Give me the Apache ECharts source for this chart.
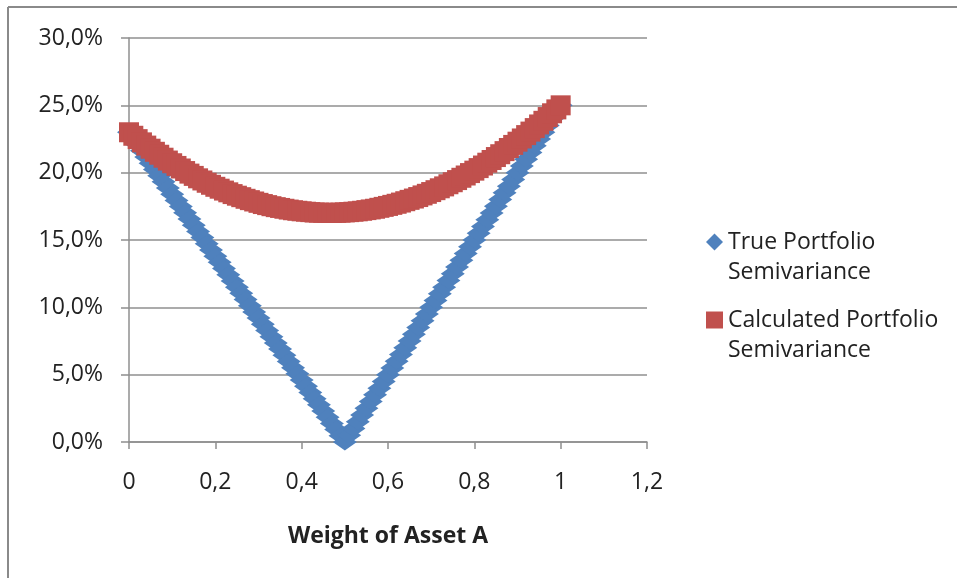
<!DOCTYPE html>
<html>
<head>
<meta charset="utf-8">
<script src="https://cdn.jsdelivr.net/npm/echarts@6/dist/echarts.min.js"></script>
<style>
  html, body { margin: 0; padding: 0; background: #ffffff; }
  #chart { width: 957px; height: 578px; }
</style>
</head>
<body>
<div id="chart"></div>
<script>
// Weight of asset A in the two-asset portfolio
const weights = [
  0.00, 0.01, 0.02, 0.03, 0.04, 0.05, 0.06, 0.07, 0.08, 0.09,
  0.10, 0.11, 0.12, 0.13, 0.14, 0.15, 0.16, 0.17, 0.18, 0.19,
  0.20, 0.21, 0.22, 0.23, 0.24, 0.25, 0.26, 0.27, 0.28, 0.29,
  0.30, 0.31, 0.32, 0.33, 0.34, 0.35, 0.36, 0.37, 0.38, 0.39,
  0.40, 0.41, 0.42, 0.43, 0.44, 0.45, 0.46, 0.47, 0.48, 0.49,
  0.50, 0.51, 0.52, 0.53, 0.54, 0.55, 0.56, 0.57, 0.58, 0.59,
  0.60, 0.61, 0.62, 0.63, 0.64, 0.65, 0.66, 0.67, 0.68, 0.69,
  0.70, 0.71, 0.72, 0.73, 0.74, 0.75, 0.76, 0.77, 0.78, 0.79,
  0.80, 0.81, 0.82, 0.83, 0.84, 0.85, 0.86, 0.87, 0.88, 0.89,
  0.90, 0.91, 0.92, 0.93, 0.94, 0.95, 0.96, 0.97, 0.98, 0.99,
  1.00
];

// True portfolio semivariance at each weight
const trueSemivariance = [
  0.2300, 0.2254, 0.2208, 0.2162, 0.2116, 0.2070, 0.2024, 0.1978, 0.1932, 0.1886,
  0.1840, 0.1794, 0.1748, 0.1702, 0.1656, 0.1610, 0.1564, 0.1518, 0.1472, 0.1426,
  0.1380, 0.1334, 0.1288, 0.1242, 0.1196, 0.1150, 0.1104, 0.1058, 0.1012, 0.0966,
  0.0920, 0.0874, 0.0828, 0.0782, 0.0736, 0.0690, 0.0644, 0.0598, 0.0552, 0.0506,
  0.0460, 0.0414, 0.0368, 0.0322, 0.0276, 0.0230, 0.0184, 0.0138, 0.0092, 0.0046,
  0.0000, 0.0050, 0.0100, 0.0150, 0.0200, 0.0250, 0.0300, 0.0350, 0.0400, 0.0450,
  0.0500, 0.0550, 0.0600, 0.0650, 0.0700, 0.0750, 0.0800, 0.0850, 0.0900, 0.0950,
  0.1000, 0.1050, 0.1100, 0.1150, 0.1200, 0.1250, 0.1300, 0.1350, 0.1400, 0.1450,
  0.1500, 0.1550, 0.1600, 0.1650, 0.1700, 0.1750, 0.1800, 0.1850, 0.1900, 0.1950,
  0.2000, 0.2050, 0.2100, 0.2150, 0.2200, 0.2250, 0.2300, 0.2350, 0.2400, 0.2450,
  0.2500
];

// Calculated portfolio semivariance at each weight
const calculatedSemivariance = [
  0.2300, 0.2274, 0.2249, 0.2225, 0.2201, 0.2178, 0.2155, 0.2133, 0.2111, 0.2090,
  0.2070, 0.2050, 0.2031, 0.2012, 0.1993, 0.1976, 0.1958, 0.1942, 0.1925, 0.1910,
  0.1895, 0.1881, 0.1867, 0.1854, 0.1841, 0.1829, 0.1818, 0.1806, 0.1796, 0.1786,
  0.1776, 0.1767, 0.1759, 0.1751, 0.1744, 0.1738, 0.1732, 0.1726, 0.1721, 0.1717,
  0.1713, 0.1710, 0.1707, 0.1704, 0.1703, 0.1702, 0.1701, 0.1701, 0.1702, 0.1703,
  0.1705, 0.1707, 0.1710, 0.1713, 0.1717, 0.1722, 0.1727, 0.1732, 0.1739, 0.1746,
  0.1753, 0.1761, 0.1769, 0.1778, 0.1788, 0.1798, 0.1808, 0.1819, 0.1831, 0.1843,
  0.1856, 0.1870, 0.1884, 0.1898, 0.1914, 0.1929, 0.1945, 0.1962, 0.1979, 0.1997,
  0.2015, 0.2034, 0.2053, 0.2074, 0.2094, 0.2116, 0.2137, 0.2160, 0.2183, 0.2206,
  0.2230, 0.2254, 0.2279, 0.2305, 0.2331, 0.2358, 0.2385, 0.2413, 0.2441, 0.2470,
  0.2500
];

const seriesNames = ['True Portfolio\nSemivariance', 'Calculated Portfolio\nSemivariance'];
const xTickLabels = ['0', '0,2', '0,4', '0,6', '0,8', '1', '1,2'];
const yTickLabels = ['0,0%', '5,0%', '10,0%', '15,0%', '20,0%', '25,0%', '30,0%'];
const xAxisTitle = 'Weight of Asset A';

const FONT = '"Open Sans", "Noto Sans", sans-serif';
const FONT_SIZE = 23;
const TEXT = '#222222';
const GRID_GREY = '#8f8f8f';
const BLUE = '#4f81bd';
const RED = '#c0504d';

const chart = echarts.init(document.getElementById('chart'), null, { renderer: 'canvas' });

// One legend block per series; a leading blank line keeps the marker level
// with the first line of the two-line series name.
function legendBlock(name, top) {
  return {
    data: [name],
    orient: 'vertical',
    left: 706,
    top: top,
    padding: 0,
    itemWidth: 17,
    itemHeight: 17,
    itemGap: 0,
    selectedMode: false,
    formatter: n => '\n' + n,
    textStyle: {
      fontFamily: FONT,
      fontSize: FONT_SIZE,
      lineHeight: 30,
      color: TEXT
    }
  };
}

chart.setOption({
  backgroundColor: '#ffffff',
  animation: false,
  grid: { left: 129, right: 310, top: 38, bottom: 136, containLabel: false },
  legend: [
    legendBlock(seriesNames[0], 197),
    legendBlock(seriesNames[1], 275)
  ],
  xAxis: {
    type: 'value',
    min: 0,
    max: 1.2,
    interval: 0.2,
    name: xAxisTitle,
    nameLocation: 'middle',
    nameGap: 83,
    nameTextStyle: { fontFamily: FONT, fontSize: FONT_SIZE, fontWeight: 'bold', color: TEXT },
    axisLine: { show: true, lineStyle: { color: GRID_GREY, width: 1.5 } },
    axisTick: { show: true, inside: false, length: 7, lineStyle: { color: GRID_GREY, width: 1.5 } },
    axisLabel: {
      margin: 29,
      fontFamily: FONT,
      fontSize: FONT_SIZE,
      color: TEXT,
      formatter: v => xTickLabels[Math.round(v / 0.2)]
    },
    splitLine: { show: false }
  },
  yAxis: {
    type: 'value',
    min: 0,
    max: 0.3,
    interval: 0.05,
    axisLine: { show: true, lineStyle: { color: GRID_GREY, width: 1.5 } },
    axisTick: { show: true, inside: false, length: 8, lineStyle: { color: GRID_GREY, width: 1.5 } },
    axisLabel: {
      margin: 26,
      fontFamily: FONT,
      fontSize: FONT_SIZE,
      color: TEXT,
      formatter: v => yTickLabels[Math.round(v / 0.05)]
    },
    splitLine: { show: true, lineStyle: { color: GRID_GREY, width: 1.5 } }
  },
  series: [
    {
      name: seriesNames[0],
      type: 'scatter',
      symbol: 'diamond',
      symbolSize: [24, 17],
      itemStyle: { color: BLUE, opacity: 1 },
      data: weights.map((w, i) => [w, trueSemivariance[i]]),
      z: 2
    },
    {
      name: seriesNames[1],
      type: 'scatter',
      symbol: 'rect',
      symbolSize: 20,
      itemStyle: { color: RED, opacity: 1 },
      data: weights.map((w, i) => [w, calculatedSemivariance[i]]),
      z: 3
    }
  ],
  graphic: [
    // chart-area frame (left and top edges)
    { type: 'line', shape: { x1: 8, y1: 7, x2: 957, y2: 7 }, style: { stroke: '#8a8a8a', lineWidth: 2 }, silent: true },
    { type: 'line', shape: { x1: 8, y1: 7, x2: 8, y2: 578 }, style: { stroke: '#8a8a8a', lineWidth: 2 }, silent: true }
  ]
});
</script>
</body>
</html>
